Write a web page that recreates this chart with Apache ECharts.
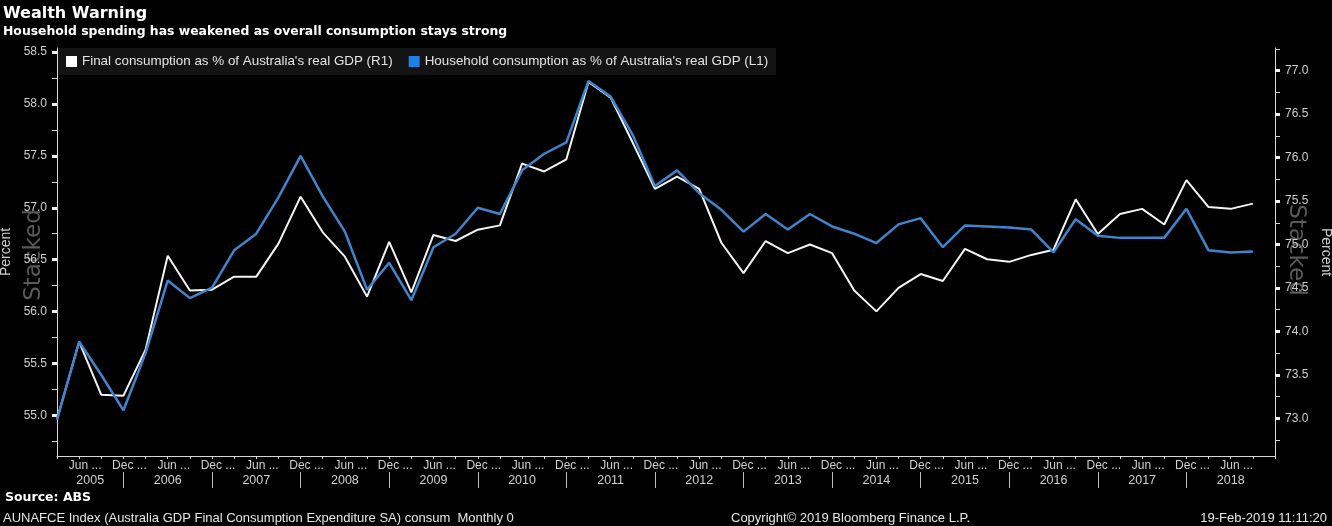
<!DOCTYPE html>
<html>
<head>
<meta charset="utf-8">
<script src="https://cdn.jsdelivr.net/npm/echarts@6/dist/echarts.min.js"></script>
<style>
html,body{margin:0;padding:0;background:#000;}
#chart{width:1332px;height:526px;}
</style>
</head>
<body>
<div id="chart"></div>
<script>
// ---- data ----
const quarters = [
 'Mar 2005','Jun 2005','Sep 2005','Dec 2005','Mar 2006','Jun 2006','Sep 2006','Dec 2006',
 'Mar 2007','Jun 2007','Sep 2007','Dec 2007','Mar 2008','Jun 2008','Sep 2008','Dec 2008',
 'Mar 2009','Jun 2009','Sep 2009','Dec 2009','Mar 2010','Jun 2010','Sep 2010','Dec 2010',
 'Mar 2011','Jun 2011','Sep 2011','Dec 2011','Mar 2012','Jun 2012','Sep 2012','Dec 2012',
 'Mar 2013','Jun 2013','Sep 2013','Dec 2013','Mar 2014','Jun 2014','Sep 2014','Dec 2014',
 'Mar 2015','Jun 2015','Sep 2015','Dec 2015','Mar 2016','Jun 2016','Sep 2016','Dec 2016',
 'Mar 2017','Jun 2017','Sep 2017','Dec 2017','Mar 2018','Jun 2018','Sep 2018','Dec 2018'
];
// Final consumption as % of real GDP (right axis, R1)
const finalConsumption = [
 72.99, 73.88, 73.27, 73.26, 73.79, 74.87, 74.47, 74.48, 74.63, 74.63,
 75.01, 75.55, 75.14, 74.86, 74.40, 75.03, 74.45, 75.11, 75.04, 75.17,
 75.22, 75.93, 75.84, 75.98, 76.87, 76.69, 76.17, 75.64, 75.78, 75.64,
 75.02, 74.67, 75.04, 74.90, 75.00, 74.90, 74.47, 74.23, 74.50, 74.66,
 74.58, 74.95, 74.83, 74.80, 74.88, 74.94, 75.52, 75.12, 75.35, 75.41,
 75.23, 75.74, 75.43, 75.41, 75.47
];
// Household consumption as % of real GDP (left axis, L1)
const householdConsumption = [
 54.96, 55.71, 55.39, 55.05, 55.60, 56.30, 56.13, 56.23, 56.59, 56.75,
 57.10, 57.50, 57.11, 56.77, 56.21, 56.47, 56.11, 56.62, 56.75, 57.00,
 56.94, 57.36, 57.52, 57.63, 58.22, 58.07, 57.70, 57.21, 57.36, 57.14,
 56.98, 56.77, 56.94, 56.79, 56.94, 56.82, 56.75, 56.66, 56.84, 56.90,
 56.62, 56.83, 56.82, 56.81, 56.79, 56.57, 56.89, 56.73, 56.71, 56.71,
 56.71, 56.99, 56.59, 56.57, 56.58
];
const leftMajorTicks = [55.0, 55.5, 56.0, 56.5, 57.0, 57.5, 58.0, 58.5];
const leftAllTicks = [54.75, 55.0, 55.25, 55.5, 55.75, 56.0, 56.25, 56.5, 56.75, 57.0, 57.25, 57.5, 57.75, 58.0, 58.25, 58.5];
const rightMajorTicks = [73.0, 73.5, 74.0, 74.5, 75.0, 75.5, 76.0, 76.5, 77.0];
const rightAllTicks = [72.75, 73.0, 73.25, 73.5, 73.75, 74.0, 74.25, 74.5, 74.75, 75.0, 75.25, 75.5, 75.75, 76.0, 76.25, 76.5, 76.75, 77.0, 77.25];
const yearLabels = ['2005','2006','2007','2008','2009','2010','2011','2012','2013','2014','2015','2016','2017','2018'];
const yearCenters = [1.5, 5, 9, 13, 17, 21, 25, 29, 33, 37, 41, 45, 49, 53];
const yearBoundaries = [3, 7, 11, 15, 19, 23, 27, 31, 35, 39, 43, 47, 51];

const FONT = "'Liberation Sans', Arial, sans-serif";
const AX = '#d8d8d8';
const LBL = '#d0d0d0';

const chart = echarts.init(document.getElementById('chart'), null, {renderer: 'canvas'});

function yAxisBase(min, max, pos, ticks, labels, nameRotate, nameGap) {
  return {
    type: 'value', position: pos, min: min, max: max,
    splitLine: {show: false},
    axisLine: {show: true, lineStyle: {color: AX, width: 1}},
    axisTick: {show: true, inside: false, length: 5, customValues: ticks, lineStyle: {color: AX, width: 1}},
    axisLabel: {show: true, customValues: labels, margin: 10, color: LBL, fontFamily: FONT, fontSize: 12,
      formatter: v => v.toFixed(1)},
    name: 'Percent', nameLocation: 'middle', nameRotate: nameRotate, nameGap: nameGap,
    nameTextStyle: {color: '#cfcfcf', fontFamily: FONT, fontSize: 14}
  };
}
function yAxisMajor(min, max, pos, ticks) {
  return {
    type: 'value', position: pos, min: min, max: max,
    splitLine: {show: false},
    axisLine: {show: false},
    axisTick: {show: true, inside: false, length: 5, customValues: ticks, lineStyle: {color: '#f0f0f0', width: 3}},
    axisLabel: {show: false}
  };
}

const option = {
  backgroundColor: '#000',
  animation: false,
  grid: {left: 57, right: 57, top: 48, bottom: 70, containLabel: false, outerBoundsMode: 'none'},
  legend: {
    left: 58, top: 48, orient: 'horizontal',
    padding: [7, 8, 7, 8], itemGap: 16, itemWidth: 11, itemHeight: 11,
    backgroundColor: '#141414', icon: 'rect',
    textStyle: {color: '#e4e4e4', fontFamily: FONT, fontSize: 13.4},
    data: [
      {name: "Final consumption as % of Australia's real GDP (R1)", itemStyle: {color: '#ffffff'}},
      {name: "Household consumption as % of Australia's real GDP (L1)", itemStyle: {color: '#1f80e6'}}
    ]
  },
  xAxis: [
    {
      type: 'category', data: quarters, boundaryGap: false, position: 'bottom',
      axisLine: {show: true, lineStyle: {color: AX, width: 1}},
      axisTick: {show: true, interval: 0, inside: false, length: 3, lineStyle: {color: AX}},
      axisLabel: {
        interval: (i, v) => i < quarters.length - 1 && (v.startsWith('Jun') || v.startsWith('Dec')),
        formatter: v => v.slice(0, 3) + ' ...',
        color: LBL, fontFamily: FONT, fontSize: 12, margin: 4, padding: [0, 0, 0, 12]
      },
      splitLine: {show: false}
    },
    {
      type: 'value', min: 0, max: quarters.length - 1, position: 'bottom', offset: 16,
      axisLine: {show: false},
      axisTick: {show: true, inside: false, length: 16, customValues: yearBoundaries, lineStyle: {color: '#bdbdbd'}},
      axisLabel: {
        customValues: yearCenters, margin: 2, color: LBL, fontFamily: FONT, fontSize: 12.5,
        formatter: v => yearLabels[yearCenters.indexOf(v)]
      },
      splitLine: {show: false}
    }
  ],
  yAxis: [
    yAxisBase(54.61, 58.538, 'left', leftAllTicks, leftMajorTicks, 90, 42),
    yAxisBase(72.566, 77.261, 'right', rightAllTicks, rightMajorTicks, -90, 42),
    yAxisMajor(54.61, 58.538, 'left', leftMajorTicks),
    yAxisMajor(72.566, 77.261, 'right', rightMajorTicks)
  ],
  series: [
    {
      name: "Final consumption as % of Australia's real GDP (R1)",
      type: 'line', xAxisIndex: 0, yAxisIndex: 1, data: finalConsumption,
      showSymbol: false, symbol: 'none', smooth: false,
      lineStyle: {color: '#f4f4f4', width: 2}, itemStyle: {color: '#ffffff'}
    },
    {
      name: "Household consumption as % of Australia's real GDP (L1)",
      type: 'line', xAxisIndex: 0, yAxisIndex: 0, data: householdConsumption,
      showSymbol: false, symbol: 'none', smooth: false,
      lineStyle: {color: '#3f84cc', width: 2.5}, itemStyle: {color: '#1f80e6'}
    }
  ],
  graphic: [
    {type: 'text', x: 3, y: 14, style: {text: 'Wealth Warning', font: "bold 16px 'DejaVu Sans'", fill: '#ffffff', textAlign: 'left', textVerticalAlign: 'middle'}},
    {type: 'text', x: 3, y: 32, style: {text: 'Household spending has weakened as overall consumption stays strong', font: "bold 12.4px 'DejaVu Sans'", fill: '#ffffff', textAlign: 'left', textVerticalAlign: 'middle'}},
    {type: 'text', x: 34, y: 255, rotation: Math.PI / 2, z: 0, style: {text: 'Stacked', font: "23px 'DejaVu Sans'", fill: '#5a5a5a', textAlign: 'center', textVerticalAlign: 'middle'}},
    {type: 'text', x: 1296, y: 250, rotation: -Math.PI / 2, z: 0, style: {text: 'Stacked', font: "23px 'DejaVu Sans'", fill: '#5a5a5a', textAlign: 'center', textVerticalAlign: 'middle'}},
    {type: 'text', x: 5, y: 498, style: {text: 'Source: ABS', font: "bold 12.5px 'DejaVu Sans'", fill: '#ffffff', textAlign: 'left', textVerticalAlign: 'middle'}},
    {type: 'text', x: 3, y: 518, style: {text: 'AUNAFCE Index (Australia GDP Final Consumption Expenditure SA) consum  Monthly 0', font: "13px 'Liberation Sans'", fill: '#e6e6e6', textAlign: 'left', textVerticalAlign: 'middle'}},
    {type: 'text', x: 731, y: 518, style: {text: 'Copyright\u00a9 2019 Bloomberg Finance L.P.', font: "13px 'Liberation Sans'", fill: '#e6e6e6', textAlign: 'left', textVerticalAlign: 'middle'}},
    {type: 'text', x: 1327, y: 518, style: {text: '19-Feb-2019 11:11:20', font: "13px 'Liberation Sans'", fill: '#e6e6e6', textAlign: 'right', textVerticalAlign: 'middle'}}
  ]
};
chart.setOption(option);
</script>
</body>
</html>
